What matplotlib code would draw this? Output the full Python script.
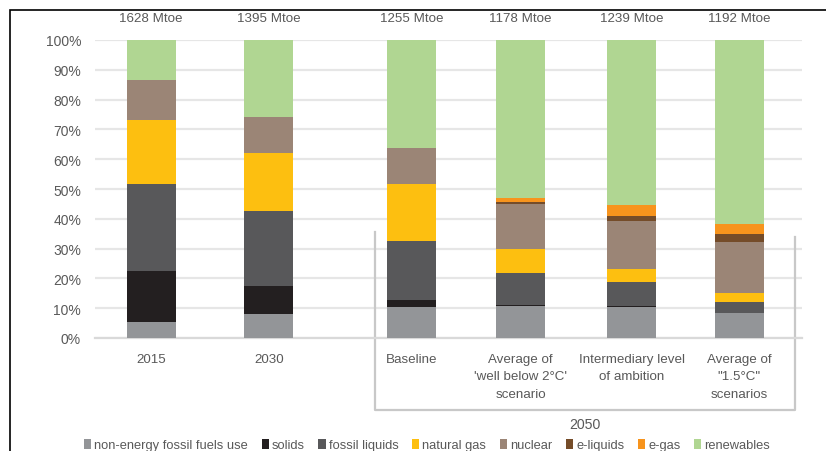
import matplotlib.pyplot as plt
from matplotlib.patches import Patch, Rectangle
from matplotlib.lines import Line2D
import numpy as np

# categories and totals
categories = ["2015", "2030", "Baseline", "Average of\n'well below 2\u00b0C'\nscenario",
              "Intermediary level\nof ambition", "Average of\n\"1.5\u00b0C\"\nscenarios"]
totals = ["1628 Mtoe", "1395 Mtoe", "1255 Mtoe", "1178 Mtoe", "1239 Mtoe", "1192 Mtoe"]

# shares in % per energy source
non_energy = [5.5, 8.0, 10.3, 10.7, 10.3, 8.3]
solids = [16.9, 9.3, 2.3, 0.4, 0.3, 0.0]
fossil_liquids = [29.2, 25.4, 20.1, 10.8, 8.1, 3.8]
natural_gas = [21.5, 19.5, 18.9, 8.0, 4.4, 3.1]
nuclear = [13.4, 12.0, 12.3, 15.2, 16.2, 17.0]
e_liquids = [0.0, 0.0, 0.0, 0.6, 1.5, 2.8]
e_gas = [0.0, 0.0, 0.0, 1.2, 3.9, 3.3]
renewables = [13.5, 25.8, 36.1, 53.1, 55.3, 61.7]

series = [
    ("non-energy fossil fuels use", non_energy, "#939598"),
    ("solids", solids, "#231f20"),
    ("fossil liquids", fossil_liquids, "#58585a"),
    ("natural gas", natural_gas, "#fdbf10"),
    ("nuclear", nuclear, "#9b8576"),
    ("e-liquids", e_liquids, "#754c29"),
    ("e-gas", e_gas, "#f7941d"),
    ("renewables", renewables, "#b0d692"),
]

txt = "#595959"
fs = 9.6
plt.rcParams["font.family"] = ["Liberation Sans", "DejaVu Sans"]

fig = plt.figure(figsize=(8.26, 4.52), dpi=100)
ax = fig.add_axes([95 / 826, 1 - 339 / 452, 707 / 826, 298 / 452])

xpos = np.array([0.0, 1.07, 2.37, 3.36, 4.37, 5.35])
width = 0.445

bottom = np.zeros(len(categories))
for name, vals, col in series:
    vals = np.array(vals)
    ax.bar(xpos, vals, width, bottom=bottom, color=col, label=name, zorder=3)
    bottom += vals

ax.set_xlim(-0.51, 5.92)
ax.set_ylim(0, 100)
ax.set_yticks(np.arange(0, 101, 10))
ax.set_yticklabels([f"{v}%" for v in range(0, 101, 10)], color=txt, fontsize=fs + 0.4)
ax.grid(axis="y", color="#e6e6e6", linewidth=1.6, zorder=0)
ax.tick_params(axis="y", length=0, pad=10)
ax.set_xticks([])
for s in ["top", "right", "left"]:
    ax.spines[s].set_visible(False)
ax.spines["bottom"].set_color("#d9d9d9")
ax.spines["bottom"].set_linewidth(1.6)

# totals above bars
for x, t in zip(xpos, totals):
    ax.text(x, 107.4, t, ha="center", va="center", color=txt, fontsize=fs, clip_on=False)

# category labels below bars
for x, c in zip(xpos, categories):
    ax.text(x, -4.9, c, ha="center", va="top", color=txt, fontsize=fs,
            linespacing=1.62, clip_on=False)

# bracket around the 2050 scenarios
bx = [(375 - 95) / 110 - 0.51, (795 - 95) / 110 - 0.51]
yb = lambda p: (339 - p) / 2.98
ax.add_line(Line2D([bx[0], bx[0], bx[1], bx[1]], [yb(233), yb(411), yb(411), yb(238)],
                   color="#c8c8c8", linewidth=1.6, clip_on=False))
ax.text((bx[0] + bx[1]) / 2, yb(425), "2050", ha="center", va="center",
        color=txt, fontsize=fs + 0.6, clip_on=False)

# legend
handles = [Patch(facecolor=col, label=name) for name, _, col in series]
fig.legend(handles=handles, loc="center", bbox_to_anchor=(0.517, 1 - 446 / 452), ncol=8,
           frameon=False, fontsize=9.3, handlelength=0.55, handleheight=0.9,
           handletextpad=0.25, columnspacing=1.05, labelcolor=txt)

# outer frame
fig.patches.append(Rectangle((10 / 826, -0.2), 1.2, 1.2 - 11 / 452, transform=fig.transFigure,
                             fill=False, edgecolor="black", linewidth=1.2))

fig.savefig("out.png", dpi=100)
